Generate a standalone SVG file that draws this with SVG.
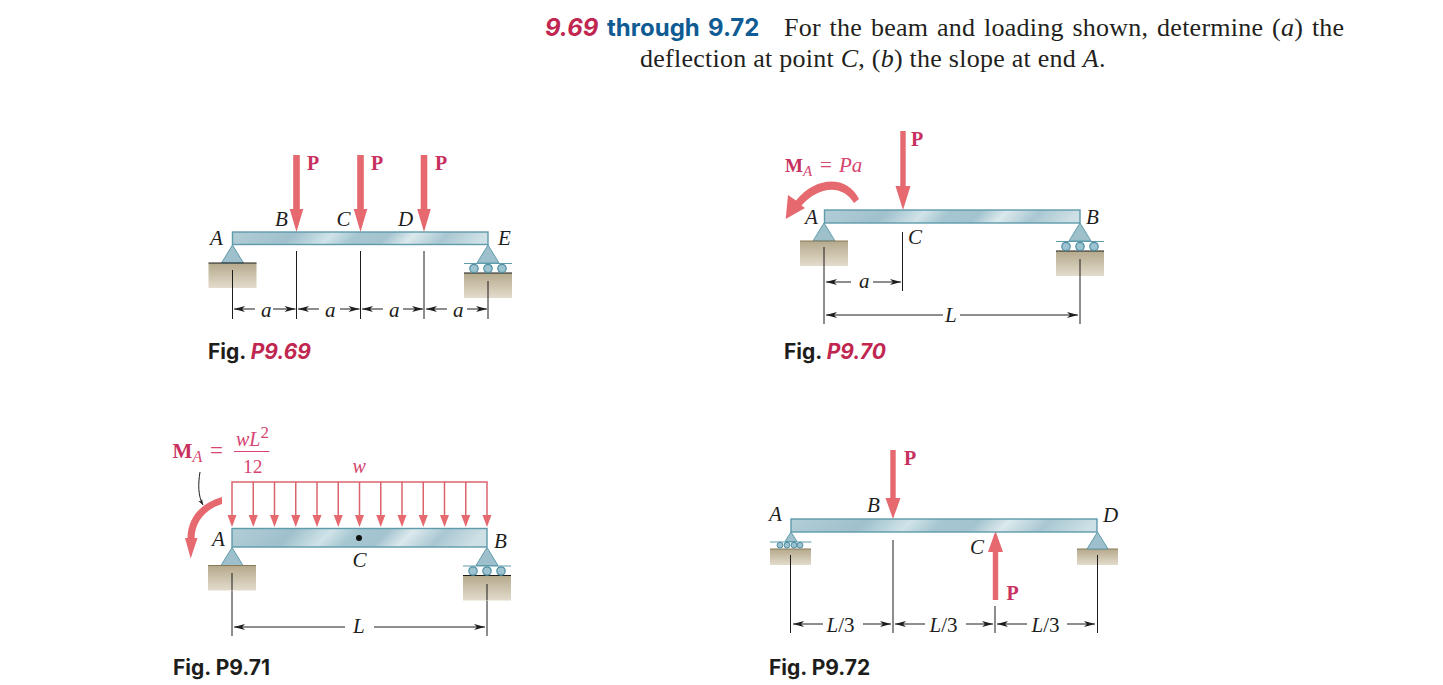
<svg xmlns="http://www.w3.org/2000/svg" xmlns:xlink="http://www.w3.org/1999/xlink" width="1443" height="685" viewBox="0 0 1443 685">
<style>
.i{font-style:italic}
.lb{font-family:"Liberation Serif",serif;font-style:italic;font-size:21px;fill:#1d1d1b}
.pl{font-family:"Liberation Serif",serif;font-weight:bold;font-size:20px;fill:#c8315f}
.rd{font-family:"Liberation Serif",serif;fill:#d6456f}
.fig{font-family:Inter,"Liberation Sans",sans-serif;font-weight:700;font-size:21px;fill:#1d1d1b}
.red{fill:#c02650;font-style:italic}
.head{font-family:Inter,"Liberation Sans",sans-serif;font-weight:700;font-size:24px}
.body{font-family:"Liberation Serif",serif;font-size:26px;letter-spacing:.25px;fill:#231f20}
.beam{stroke:#5f9bab;stroke-width:1.4}
.dim{stroke:#1d1d1b;stroke-width:1;fill:none}
.da{stroke:#1d1d1b;stroke-width:1;fill:none;marker-end:url(#tip)}
.big{fill:#e5696f}
.ld{stroke:#d9656c;stroke-width:1.5;fill:none}
.tri{fill:#9dc0cc;stroke:#5f9bab;stroke-width:1}
.gr{fill:url(#ground)}
.roll{fill:#9cc3cf;stroke:#4f8fa3;stroke-width:1.2}
.ln{stroke:#5f9bab;stroke-width:1.2}
</style>
<defs>
<linearGradient id="ground" x1="0" y1="0" x2="0" y2="1"><stop offset="0" stop-color="#b5a98c"/><stop offset="1" stop-color="#e3dccc"/></linearGradient>
<linearGradient id="beamBase"><stop offset="0" stop-color="#b2ced7"/><stop offset=".25" stop-color="#9fc0cc"/><stop offset=".4" stop-color="#cfe3e8"/><stop offset=".5" stop-color="#a6c6d1"/><stop offset=".62" stop-color="#a3c3cf"/><stop offset=".72" stop-color="#dbe9ec"/><stop offset=".85" stop-color="#a9c7d2"/><stop offset="1" stop-color="#cde0e5"/></linearGradient>
<linearGradient id="b1" xlink:href="#beamBase" gradientUnits="userSpaceOnUse" x1="232" y1="232" x2="360" y2="360"/>
<linearGradient id="b2" xlink:href="#beamBase" gradientUnits="userSpaceOnUse" x1="824" y1="210" x2="952" y2="338"/>
<linearGradient id="b3" xlink:href="#beamBase" gradientUnits="userSpaceOnUse" x1="232" y1="528" x2="360" y2="656"/>
<linearGradient id="b4" xlink:href="#beamBase" gradientUnits="userSpaceOnUse" x1="791" y1="519" x2="944" y2="672"/>
<marker id="tip" markerUnits="userSpaceOnUse" markerWidth="14" markerHeight="10" viewBox="-12 -5 14 10" refX="0" refY="0" orient="auto"><path d="M0,0L-11,-3L-8,0L-11,3Z" fill="#1d1d1b"/></marker>
<marker id="ltip" markerUnits="userSpaceOnUse" markerWidth="10" markerHeight="14" viewBox="-12 -5 14 10" refX="0" refY="0" orient="auto"><path d="M0,0L-8,-3L-6,0L-8,3Z" fill="#1d1d1b"/></marker>
<path id="down" class="big" d="M-3.300,0V54H-6.800L0,77L6.800,54H3.300V0Z"/>
<path id="down2" class="big" d="M-2.700,0V55H-7.500L0,79L7.500,55H2.700V0Z"/>
<g id="pin"><rect class="gr" x="-24" y="18" width="48" height="25"/><path class="tri" d="M0,0L-11,18H11Z"/><path d="M-24,18H24" stroke="#1d1d1b" stroke-width="1.2"/></g>
<g id="pin2"><rect class="gr" x="-24" y="18" width="48" height="25"/><path class="tri" d="M0,0L-11,18H11Z"/><path d="M-24,18H24" stroke="#8a7a58" stroke-width="1.2"/></g>
<g id="roller"><rect class="gr" x="-24" y="28" width="48" height="25"/><path d="M-24,28H24" stroke="#1d1d1b" stroke-width="1.2"/><path class="tri" d="M0,0L-11,18H11Z"/><path class="ln" d="M-24,18.500H24"/><circle class="roll" cx="-14" cy="23.500" r="4.200"/><circle class="roll" cx="0" cy="23.500" r="4.200"/><circle class="roll" cx="14" cy="23.500" r="4.200"/></g>
<path id="ldh" fill="#e5696f" d="M-4.500,-12L0,0L4.500,-12Z"/>
</defs>
<rect width="1443" height="685" fill="#fff"/>

<g id="heading">
<text class="head" y="36"><tspan x="545" fill="#c02650" font-style="italic">9.69</tspan><tspan x="607" fill="#0f5c94">through</tspan><tspan x="708" fill="#0f5c94">9.72</tspan></text>
<text class="body" x="784" y="36" word-spacing="2">For the beam and loading shown, determine (<tspan class="i">a</tspan>) the</text>
<text class="body" x="640" y="67">deflection at point <tspan class="i">C</tspan>, (<tspan class="i">b</tspan>) the slope at end <tspan class="i">A</tspan>.</text>
</g>

<g id="connectors">
<g id="dims-69">
<path class="dim" d="M232.500,270V319M296.500,251V319M360.500,251V319M424,251V319M488,281V319"/>
<path class="da" d="M255,309H234"/><path class="da" d="M273,309H295.500"/>
<path class="da" d="M319,309H298"/><path class="da" d="M340,309H359.500"/>
<path class="da" d="M383,309H362"/><path class="da" d="M403,309H423"/>
<path class="da" d="M447,309H426"/><path class="da" d="M467,309H487"/>
</g>
<g id="dims-70">
<path class="dim" d="M824,247V324M902.500,232V291M1080,259V324"/>
<path class="da" d="M851,282H826"/><path class="da" d="M873,282H901"/>
<path class="da" d="M943,315H826"/><path class="da" d="M960,315H1078"/>
</g>
<g id="dims-71">
<path class="dim" d="M232,573V636M487,584V636"/>
<path class="da" d="M345,627H234"/><path class="da" d="M374,627H485"/>
<path fill="none" stroke="#1d1d1b" stroke-width="1" marker-end="url(#ltip)" d="M200,472C198,484 198,496 203,505"/>
</g>
<g id="dims-72">
<path class="dim" d="M790.500,555V633M893,540V633M995,606V633M1097.500,555V633"/>
<path class="da" d="M823,624H793"/><path class="da" d="M863,624H891"/>
<path class="da" d="M925,624H895"/><path class="da" d="M966,624H993"/>
<path class="da" d="M1027,624H997"/><path class="da" d="M1067,624H1095"/>
</g>
<g id="loads">
<use href="#down" transform="translate(296.500,155)"/>
<use href="#down" transform="translate(360.500,155)"/>
<use href="#down" transform="translate(424,155)"/>
<use href="#down2" transform="translate(903,131)"/>
<use href="#down2" transform="translate(893,450) scale(1,.873)"/>
<use href="#down2" transform="translate(995.500,600) scale(1,-.873)"/>
<path class="big" d="M859,199C848,176 817,175 796,200.500L788,195L785.700,219L805,208L801.500,205.500C820,185 843,185 854,203Z"/>
<path class="big" d="M222,497C202,503 188,516 187.500,538L185,538L190.700,558.500L197.500,538L194.500,538C195,521 206,509 222,504Z"/>
<path class="ld" d="M232,518V482H487V518M253.250,482V518M274.500,482V518M295.750,482V518M317,482V518M338.250,482V518M359.500,482V518M380.750,482V518M402,482V518M423.250,482V518M444.500,482V518M465.750,482V518"/>
<g fill="#e5696f"><use href="#ldh" x="232" y="527"/><use href="#ldh" x="253.250" y="527"/><use href="#ldh" x="274.500" y="527"/><use href="#ldh" x="295.750" y="527"/><use href="#ldh" x="317" y="527"/><use href="#ldh" x="338.250" y="527"/><use href="#ldh" x="359.500" y="527"/><use href="#ldh" x="380.750" y="527"/><use href="#ldh" x="402" y="527"/><use href="#ldh" x="423.250" y="527"/><use href="#ldh" x="444.500" y="527"/><use href="#ldh" x="465.750" y="527"/><use href="#ldh" x="487" y="527"/></g>
</g>
</g>

<g id="fig-P9-69">
<use href="#pin" transform="translate(232.500,245)"/>
<use href="#roller" transform="translate(488,245)"/>
<rect class="beam" x="232.500" y="232" width="255.500" height="12.500" fill="url(#b1)"/>
<path class="dim" d="M232.500,270V288M488,281V298"/>
<g class="pl"><text x="307" y="170">P</text><text x="371" y="170">P</text><text x="435" y="170">P</text></g>
<g class="lb"><text x="210" y="245">A</text><text x="275" y="226">B</text><text x="336.500" y="226">C</text><text x="398" y="226">D</text><text x="498" y="245">E</text><text x="261" y="317">a</text><text x="325" y="317">a</text><text x="389" y="317">a</text><text x="453" y="317">a</text></g>
<text class="fig" x="208" y="358.500">Fig. <tspan class="red">P9.69</tspan></text>
</g>

<g id="fig-P9-70">
<use href="#pin2" transform="translate(824,223)"/>
<use href="#roller" transform="translate(1080,223)"/>
<rect class="beam" x="824.500" y="210" width="255.500" height="13" fill="url(#b2)"/>
<path class="dim" d="M824,247V266M1080,259V276"/>
<text class="pl" x="911" y="146">P</text>
<text class="rd" y="172" font-size="21"><tspan x="785" font-weight="bold" font-size="19" fill="#c8315f">M</tspan><tspan class="i" x="803" font-size="15" dy="4">A</tspan><tspan x="820" dy="-4">=</tspan><tspan class="i" x="839">Pa</tspan></text>
<g class="lb"><text x="805" y="224">A</text><text x="1086" y="224">B</text><text x="908" y="244">C</text><text x="859" y="288">a</text><text x="945" y="322">L</text></g>
<text class="fig" x="784" y="358.500">Fig. <tspan class="red">P9.70</tspan></text>
</g>

<g id="fig-P9-71">
<use href="#pin2" transform="translate(232,547.500)"/>
<use href="#roller" transform="translate(487,547.500)"/>
<rect class="beam" x="232" y="528.500" width="255" height="18.500" fill="url(#b3)"/>
<circle cx="359" cy="538" r="3" fill="#111"/>
<path class="dim" d="M232,573V590M487,584V600"/>
<text class="rd" y="458" font-size="23"><tspan x="172.500" font-weight="bold" font-size="21" fill="#c8315f">M</tspan><tspan class="i" x="192.500" font-size="16" dy="4">A</tspan><tspan x="210" dy="-4">=</tspan></text>
<text class="rd i" x="236" y="446" font-size="20">wL<tspan font-size="17" dy="-8" font-style="normal">2</tspan></text>
<path d="M234,451.500H269.500" stroke="#d6456f" stroke-width="1"/>
<text class="rd" x="243" y="473" font-size="19.500">12</text>
<text class="rd i" x="352.500" y="473" font-size="20">w</text>
<g class="lb"><text x="212" y="546">A</text><text x="494" y="548">B</text><text x="352.500" y="567">C</text><text x="353" y="633">L</text></g>
<text class="fig" x="173" y="675">Fig. P9.71</text>
</g>

<g id="fig-P9-72">
<g transform="translate(791,532)"><rect class="gr" x="-21" y="17" width="41" height="16"/><path d="M-21,17H20" stroke="#8a7a58" stroke-width="1.200"/><path class="tri" d="M0,0L-6,9.500H6Z"/><path class="ln" d="M-21,10H20.500"/><g fill="#9cc3cf" stroke="#4f8fa3" stroke-width="1"><circle cx="-11" cy="13.200" r="2.900"/><circle cx="-4" cy="13.200" r="2.900"/><circle cx="3" cy="13.200" r="2.900"/><circle cx="9" cy="13.200" r="2.900"/></g></g>
<g transform="translate(1097.500,532)"><rect class="gr" x="-20.500" y="17" width="41" height="16"/><path d="M-20.500,17H20.500" stroke="#8a7a58" stroke-width="1.200"/><path class="tri" d="M0,0L-10.500,17H10.500Z"/></g>
<rect class="beam" x="791" y="519" width="306" height="13" fill="url(#b4)"/>
<path class="dim" d="M790.500,555V565M1097.500,555V565"/>
<text class="pl" x="904" y="465">P</text><text class="pl" x="1006.500" y="600">P</text>
<g class="lb"><text x="769" y="521">A</text><text x="867" y="512">B</text><text x="970" y="554">C</text><text x="1103" y="522">D</text>
<text x="826.500" y="631.500">L<tspan font-style="normal">/3</tspan></text><text x="929.500" y="631.500">L<tspan font-style="normal">/3</tspan></text><text x="1031.500" y="631.500">L<tspan font-style="normal">/3</tspan></text></g>
<text class="fig" x="769" y="675">Fig. P9.72</text>
</g>
</svg>
